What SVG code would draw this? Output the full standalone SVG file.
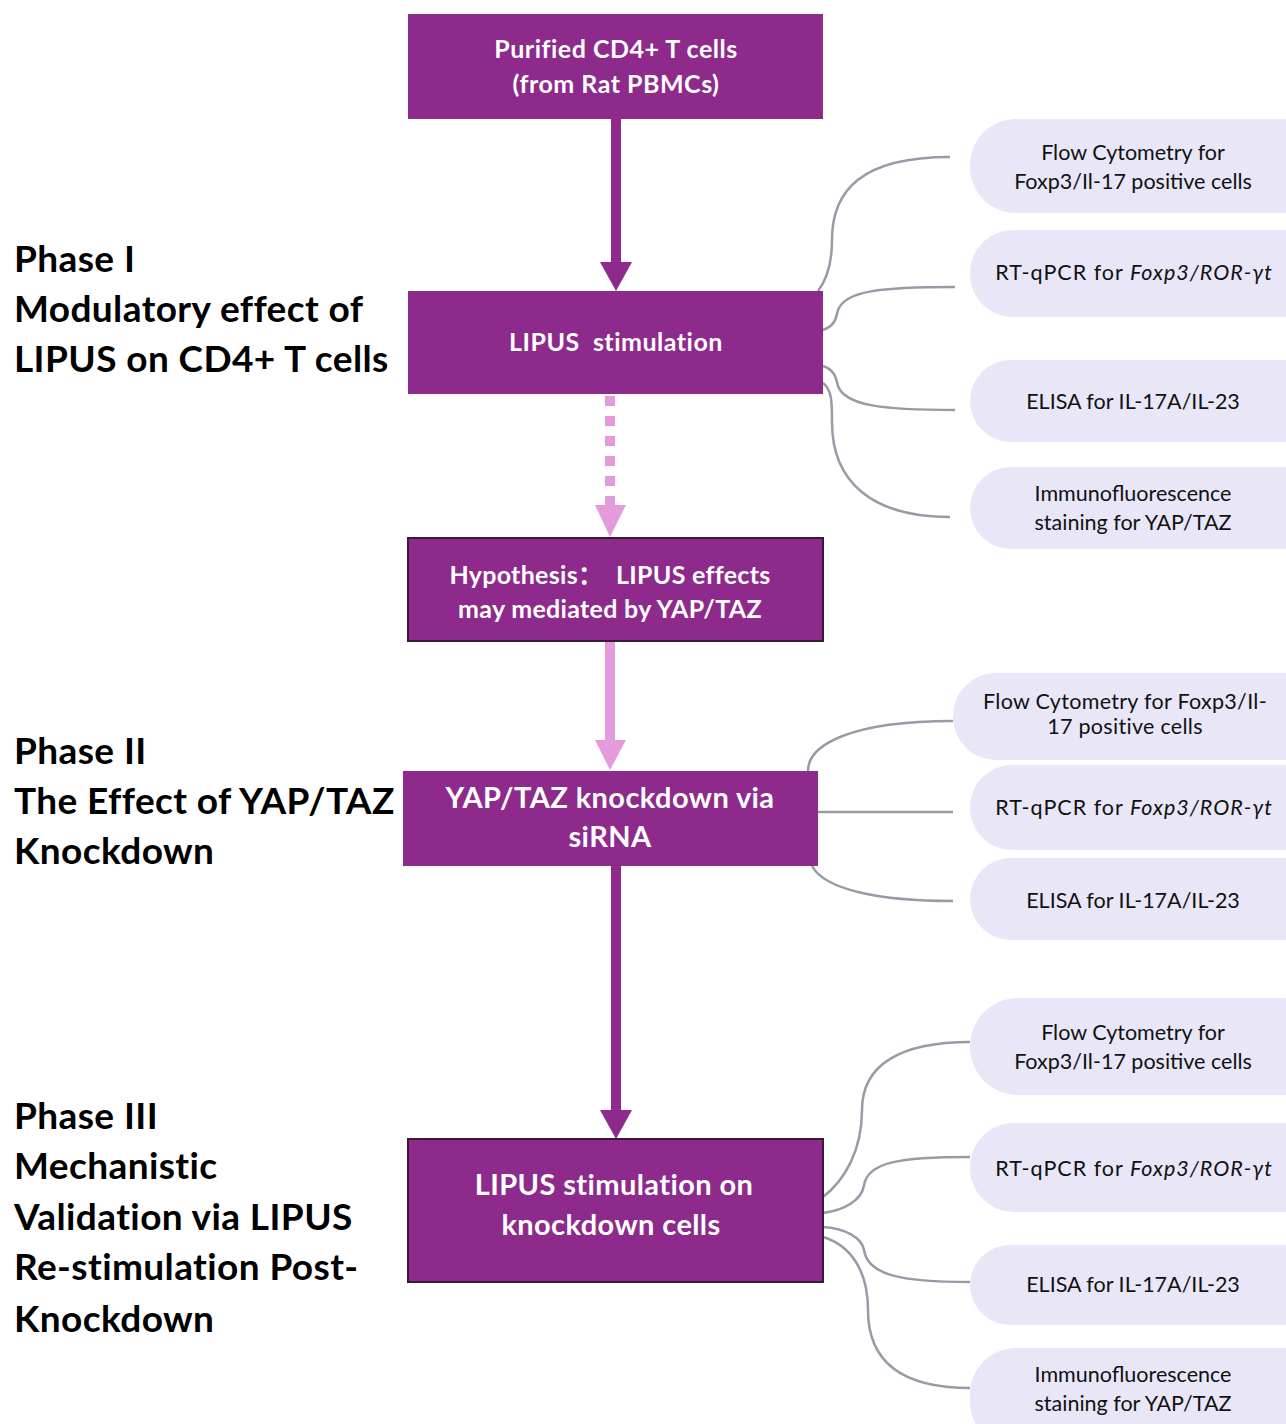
<svg xmlns="http://www.w3.org/2000/svg" width="1286" height="1424" viewBox="0 0 1286 1424">
<style>
.box{fill:#8E2A8C}
.boxd{fill:#8E2A8C;stroke:#3A1838;stroke-width:2}
.bt{font-family:Lato,"Noto Sans CJK SC","Liberation Sans",sans-serif;font-weight:bold;fill:#fff;text-anchor:middle}
.ph{font-family:Lato,"Liberation Sans",sans-serif;font-weight:bold;font-size:37px;letter-spacing:0.4px;fill:#000}
.pill{fill:#E8E6F7}
.pt{font-family:Lato,"Liberation Sans",sans-serif;font-size:21.5px;fill:#111;text-anchor:middle}
.rt{letter-spacing:1px}
.con{fill:none;stroke:#9A9AA6;stroke-width:2.5}
</style>
<rect width="1286" height="1424" fill="#fff"/>
<g id="connectors">
<line x1="616" y1="119" x2="616" y2="264" stroke="#8E2A8C" stroke-width="10"/>
<polygon points="600,262 632,262 616,291" fill="#8E2A8C"/>
<line x1="610" y1="396" x2="610" y2="506" stroke="#E39BDB" stroke-width="10" stroke-dasharray="10,10"/>
<polygon points="595,505 626,505 610,537" fill="#E39BDB"/>
<line x1="610" y1="642" x2="610" y2="742" stroke="#E39BDB" stroke-width="10"/>
<polygon points="595,740 626,740 610,770" fill="#E39BDB"/>
<line x1="616" y1="866" x2="616" y2="1112" stroke="#8E2A8C" stroke-width="10"/>
<polygon points="600,1110 632,1110 616,1139" fill="#8E2A8C"/>
<path class="con" d="M818,291 C828,278 832,262 832,240 C832,190 862,157 950,157"/>
<path class="con" d="M823,330 C835,326 836,318 838,310 C845,291 880,287 955,287"/>
<path class="con" d="M823,366 C835,370 836,378 838,386 C845,405 880,410 955,410"/>
<path class="con" d="M823,383 C832,390 832,402 832,422 C832,482 872,517 950,517"/>
<path class="con" d="M808,771 C808,745 850,721 953,721"/>
<line class="con" x1="818" y1="812" x2="953" y2="812"/>
<path class="con" d="M812,866 C825,890 880,901 953,901"/>
<path class="con" d="M823,1197 C845,1180 862,1150 862,1110 C862,1065 900,1042 970,1042"/>
<path class="con" d="M823,1213 C845,1210 862,1200 864,1185 C868,1162 900,1157 970,1157"/>
<path class="con" d="M823,1227 C845,1228 862,1238 864,1250 C868,1275 900,1282 970,1282"/>
<path class="con" d="M823,1237 C850,1245 868,1270 868,1310 C868,1360 900,1388 970,1388"/>
</g>
<g id="n-purified"><rect class="box" x="408" y="14" width="415" height="105"/>
<text class="bt" font-size="25" letter-spacing="0.5"><tspan x="616" y="58">Purified CD4+ T cells</tspan><tspan x="616" y="93">(from Rat PBMCs)</tspan></text></g>
<g id="n-lipus"><rect class="box" x="408" y="291" width="415" height="103"/>
<text class="bt" font-size="25" letter-spacing="0.5" x="616" y="351" xml:space="preserve">LIPUS  stimulation</text></g>
<g id="n-hypo"><rect class="boxd" x="408" y="538" width="415" height="103"/>
<text class="bt" font-size="25" letter-spacing="0.3"><tspan x="610" y="584" xml:space="preserve">Hypothesis：  LIPUS effects</tspan><tspan x="610" y="618">may mediated by YAP/TAZ</tspan></text></g>
<g id="n-knock"><rect class="box" x="403" y="771" width="415" height="95"/>
<text class="bt" font-size="29" letter-spacing="0.4"><tspan x="610" y="808">YAP/TAZ knockdown via</tspan><tspan x="610" y="847">siRNA</tspan></text></g>
<g id="n-restim"><rect class="boxd" x="408" y="1139" width="415" height="143"/>
<text class="bt" font-size="29" letter-spacing="0.4"><tspan x="614" y="1195">LIPUS stimulation on</tspan><tspan x="611" y="1235">knockdown cells</tspan></text></g>
<g id="phase1"><text class="ph"><tspan x="14" y="272">Phase I</tspan><tspan x="14" y="322">Modulatory effect of</tspan><tspan x="14" y="372">LIPUS on CD4+ T cells</tspan></text></g>
<g id="phase2"><text class="ph"><tspan x="14" y="764">Phase II</tspan><tspan x="14" y="814">The Effect of YAP/TAZ</tspan><tspan x="14" y="864">Knockdown</tspan></text></g>
<g id="phase3"><text class="ph"><tspan x="14" y="1129">Phase III</tspan><tspan x="14" y="1179">Mechanistic</tspan><tspan x="14" y="1230">Validation via LIPUS</tspan><tspan x="14" y="1280">Re-stimulation Post-</tspan><tspan x="14" y="1332">Knockdown</tspan></text></g>
<g id="p1a"><rect class="pill" x="970" y="119" width="360" height="94" rx="46"/><text class="pt"><tspan x="1133" y="160">Flow Cytometry for</tspan><tspan x="1133" y="189">Foxp3/Il-17 positive cells</tspan></text></g>
<g id="p1b"><rect class="pill" x="970" y="230" width="360" height="87" rx="43"/><text class="pt rt" x="1134" y="280">RT-qPCR for <tspan font-style="italic">Foxp3/ROR-γt</tspan></text></g>
<g id="p1c"><rect class="pill" x="970" y="360" width="360" height="82" rx="41"/><text class="pt" x="1133" y="409">ELISA for IL-17A/IL-23</text></g>
<g id="p1d"><rect class="pill" x="970" y="467" width="360" height="82" rx="41"/><text class="pt"><tspan x="1133" y="501">Immunofluorescence</tspan><tspan x="1133" y="530">staining for YAP/TAZ</tspan></text></g>
<g id="p2a"><rect class="pill" x="953" y="673" width="380" height="87" rx="43"/><text class="pt" letter-spacing="0.3"><tspan x="1125" y="709">Flow Cytometry for Foxp3/Il-</tspan><tspan x="1125" y="734">17 positive cells</tspan></text></g>
<g id="p2b"><rect class="pill" x="970" y="765" width="360" height="85" rx="42"/><text class="pt rt" x="1134" y="815">RT-qPCR for <tspan font-style="italic">Foxp3/ROR-γt</tspan></text></g>
<g id="p2c"><rect class="pill" x="970" y="858" width="360" height="82" rx="41"/><text class="pt" x="1133" y="908">ELISA for IL-17A/IL-23</text></g>
<g id="p3a"><rect class="pill" x="970" y="998" width="360" height="97" rx="48"/><text class="pt"><tspan x="1133" y="1040">Flow Cytometry for</tspan><tspan x="1133" y="1069">Foxp3/Il-17 positive cells</tspan></text></g>
<g id="p3b"><rect class="pill" x="970" y="1123" width="360" height="89" rx="44"/><text class="pt rt" x="1134" y="1176">RT-qPCR for <tspan font-style="italic">Foxp3/ROR-γt</tspan></text></g>
<g id="p3c"><rect class="pill" x="970" y="1245" width="360" height="80" rx="40"/><text class="pt" x="1133" y="1292">ELISA for IL-17A/IL-23</text></g>
<g id="p3d"><rect class="pill" x="970" y="1348" width="360" height="100" rx="46"/><text class="pt"><tspan x="1133" y="1382">Immunofluorescence</tspan><tspan x="1133" y="1411">staining for YAP/TAZ</tspan></text></g>
</svg>
